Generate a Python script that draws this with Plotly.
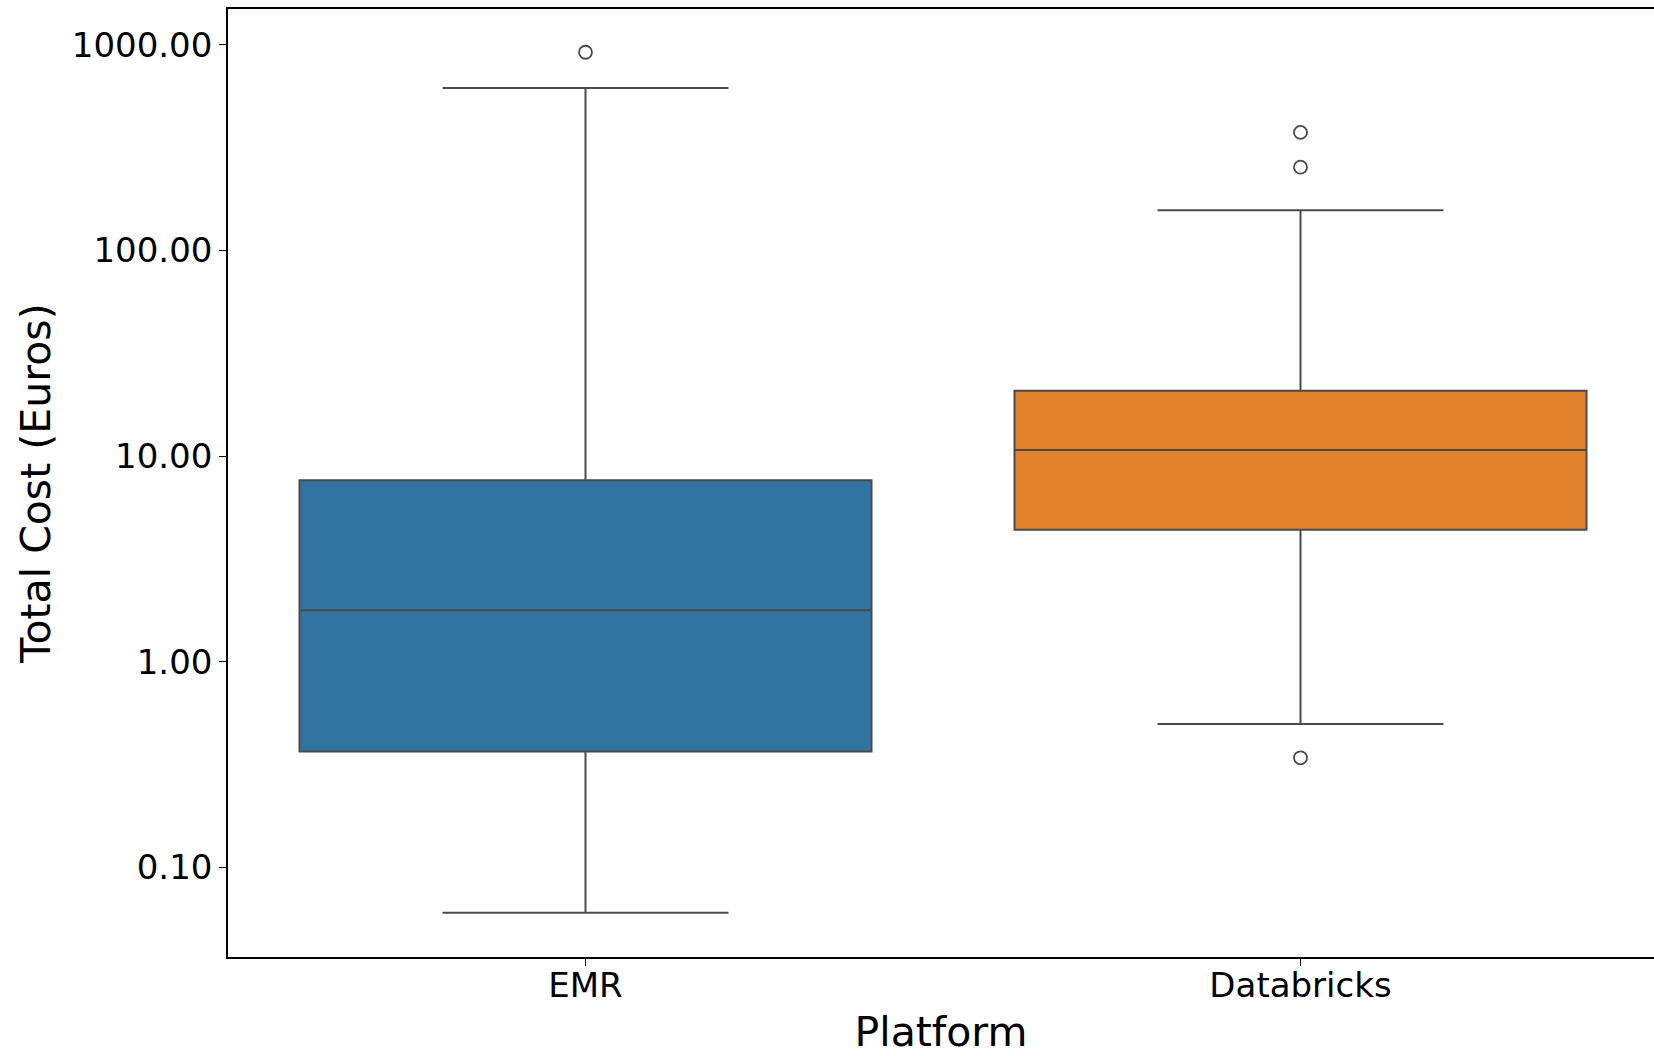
import plotly.graph_objects as go

categories = ["EMR", "Databricks"]
q1_vals = [0.366, 4.38]
median_vals = [1.78, 10.7]
q3_vals = [7.62, 20.8]
lower_whisker = [0.0602, 0.498]
upper_whisker = [616.0, 156.6]
outlier_cats = ["EMR", "Databricks", "Databricks", "Databricks"]
outlier_vals = [920.0, 375.0, 254.0, 0.341]

box_colors = ["#3274a1", "#e1812c"]
line_color = "#4a4a4a"
tick_vals = [0.1, 1, 10, 100, 1000]
tick_text = ["0.10", "1.00", "10.00", "100.00", "1000.00"]

fig = go.Figure()
for i, cat in enumerate(categories):
    fig.add_trace(go.Box(
        x=[cat], q1=[q1_vals[i]], median=[median_vals[i]], q3=[q3_vals[i]],
        lowerfence=[lower_whisker[i]], upperfence=[upper_whisker[i]],
        boxpoints=False, width=0.8, whiskerwidth=0.5,
        fillcolor=box_colors[i], line=dict(color=line_color, width=2),
        showlegend=False, hoverinfo="skip",
    ))

fig.add_trace(go.Scatter(
    x=outlier_cats, y=outlier_vals, mode="markers",
    marker=dict(symbol="circle-open", size=13, color=line_color, line=dict(width=1.8)),
    showlegend=False, hoverinfo="skip",
))

font_family = "DejaVu Sans"
fig.update_layout(
    width=1654, height=1056,
    margin=dict(l=228, r=0, t=9, b=99),
    plot_bgcolor="white", paper_bgcolor="white",
    boxmode="overlay",
    font=dict(family=font_family, color="black"),
    xaxis=dict(
        type="category", categoryorder="array", categoryarray=categories,
        range=[-0.5, -0.5 + 1426 / 715],
        showline=True, linecolor="black", linewidth=1.6, mirror=True,
        ticks="outside", ticklen=7, tickwidth=1.4, tickcolor="black",
        tickfont=dict(size=34, family=font_family),
        ticklabelstandoff=-10,
        showgrid=False, zeroline=False,
        title=dict(text="Platform", font=dict(size=41, family=font_family), standoff=16),
        automargin=False,
    ),
    yaxis=dict(
        type="log", range=[-1.436, 3.174],
        tickvals=tick_vals, ticktext=tick_text,
        showline=True, linecolor="black", linewidth=1.6, mirror=False,
        ticks="outside", ticklen=7, tickwidth=1.4, tickcolor="black",
        tickfont=dict(size=34, family=font_family),
        showgrid=False, zeroline=False,
        title=dict(text="Total Cost (Euros)", font=dict(size=41, family=font_family), standoff=8),
        automargin=False,
    ),
)

fig.write_html("out.html")
